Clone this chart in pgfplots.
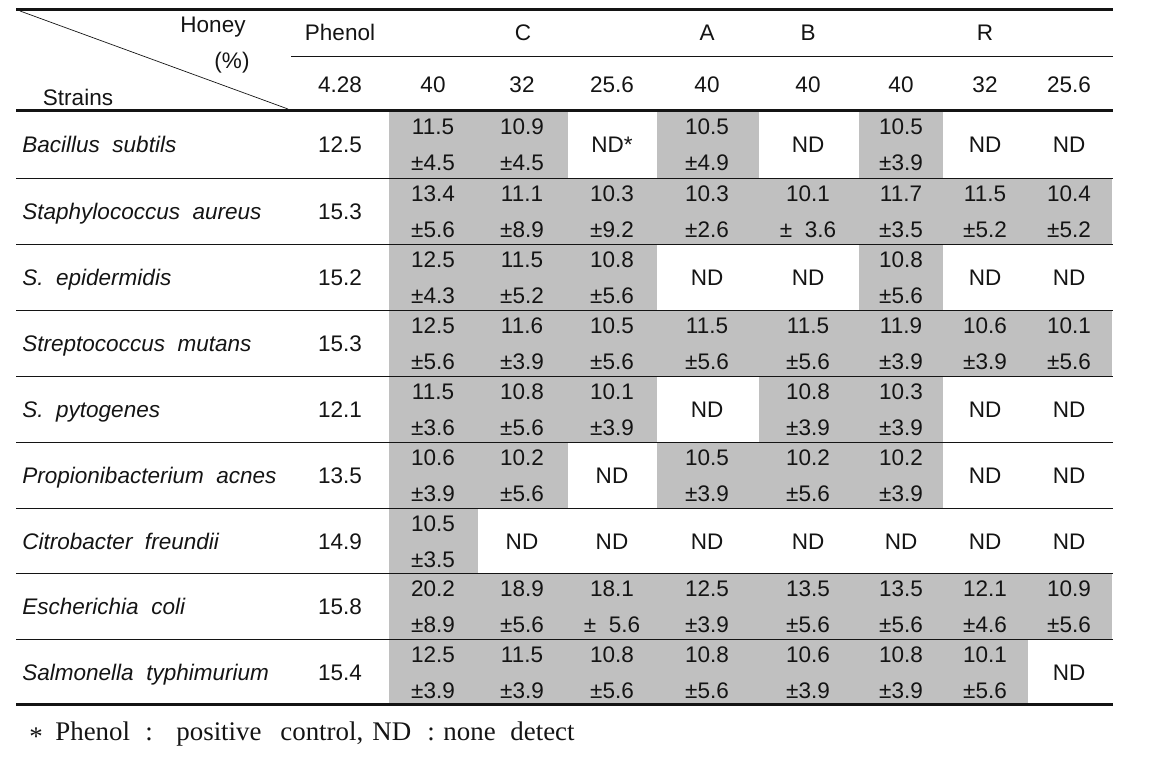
\documentclass[border=0pt]{standalone}
\usepackage{pgfplots}
\pgfplotsset{compat=1.18}
\usepackage{fontspec}
\setmainfont{Liberation Sans}
\newfontfamily\serif{Liberation Serif}
\definecolor{cellgray}{HTML}{C0C0C0}
\definecolor{ink}{HTML}{141414}

% shaded run: x1, x2, row top, row bottom
\newcommand{\cellrun}[4]{\addplot[fill=cellgray,draw=none] coordinates {(#1,#3) (#2,#3) (#2,#4) (#1,#4)};}
% value cell: x, row top, mean, sd
\newcommand{\val}[4]{%
  \node[anchor=base] at (axis cs:#1,{#2+23}) {#3};
  \node[anchor=base] at (axis cs:#1,{#2+59}) {#4};}
% single-line cell: x, row top, text
\newcommand{\one}[3]{\node[anchor=base] at (axis cs:#1,{#2+41}) {#3};}
% row label and phenol value
\newcommand{\strain}[3]{%
  \node[anchor=base west, inner sep=0pt] at (axis cs:22,{#1+41}) {\itshape #2};
  \node[anchor=base] at (axis cs:340,{#1+41}) {#3};}
\newcommand{\tabline}[2]{\draw[line width=#2] (axis cs:16,#1) -- (axis cs:1113,#1);}
\newcommand{\foot}[2]{\node[anchor=base west, inner sep=0pt, font=\serif\fontsize{13.5}{15}\selectfont] at (axis cs:#1,740) {#2};}

\begin{document}
\begin{tikzpicture}[font=\fontsize{11.3}{13}\selectfont, color=ink]
\begin{axis}[
  scale only axis, width=575bp, height=378.5bp,
  xmin=0, xmax=1150, ymin=0, ymax=757, y dir=reverse,
  hide axis, clip=false]
\path (axis cs:0,0) rectangle (axis cs:1150,757);

% shaded cells
\cellrun{389}{568}{112}{178} \cellrun{657}{759}{112}{178} \cellrun{859}{943}{112}{178}
\cellrun{389}{1112}{178}{244}
\cellrun{389}{657}{244}{310} \cellrun{859}{943}{244}{310}
\cellrun{389}{1112}{310}{376}
\cellrun{389}{657}{376}{442} \cellrun{759}{943}{376}{442}
\cellrun{389}{568}{442}{508} \cellrun{657}{943}{442}{508}
\cellrun{389}{478}{508}{573}
\cellrun{389}{1112}{573}{639}
\cellrun{389}{1028}{639}{703}

% rules
\tabline{10}{1.5bp}
\draw[line width=0.5bp] (axis cs:291,57) -- (axis cs:1113,57);
\draw[line width=0.35bp] (axis cs:20,11) -- (axis cs:288,109);
\tabline{111}{1.5bp}
\tabline{178}{0.5bp} \tabline{244}{0.5bp} \tabline{310}{0.5bp} \tabline{376}{0.5bp}
\tabline{442}{0.5bp} \tabline{508}{0.5bp} \tabline{573}{0.5bp} \tabline{639}{0.5bp}
\tabline{704}{1.5bp}

% header
\node[anchor=base] at (axis cs:213,33) {Honey};
\node[anchor=base] at (axis cs:232,68) {(\%)};
\node[anchor=base] at (axis cs:78,105) {Strains};
\node[anchor=base] at (axis cs:340,41) {Phenol};
\node[anchor=base] at (axis cs:523,41) {C};
\node[anchor=base] at (axis cs:707,41) {A};
\node[anchor=base] at (axis cs:808,41) {B};
\node[anchor=base] at (axis cs:985,41) {R};
\node[anchor=base] at (axis cs:340,92) {4.28};
\node[anchor=base] at (axis cs:433,92) {40};
\node[anchor=base] at (axis cs:522,92) {32};
\node[anchor=base] at (axis cs:612,92) {25.6};
\node[anchor=base] at (axis cs:707,92) {40};
\node[anchor=base] at (axis cs:808,92) {40};
\node[anchor=base] at (axis cs:901,92) {40};
\node[anchor=base] at (axis cs:985,92) {32};
\node[anchor=base] at (axis cs:1069,92) {25.6};

% Bacillus subtils
\strain{111}{Bacillus\ \ subtils}{12.5}
\val{433}{111}{11.5}{±4.5} \val{522}{111}{10.9}{±4.5} \one{612}{111}{ND*}
\val{707}{111}{10.5}{±4.9} \one{808}{111}{ND} \val{901}{111}{10.5}{±3.9}
\one{985}{111}{ND} \one{1069}{111}{ND}
% Staphylococcus aureus
\strain{178}{Staphylococcus\ \ aureus}{15.3}
\val{433}{178}{13.4}{±5.6} \val{522}{178}{11.1}{±8.9} \val{612}{178}{10.3}{±9.2}
\val{707}{178}{10.3}{±2.6} \val{808}{178}{10.1}{±\ \ 3.6} \val{901}{178}{11.7}{±3.5}
\val{985}{178}{11.5}{±5.2} \val{1069}{178}{10.4}{±5.2}
% S. epidermidis
\strain{244}{S.\ \ epidermidis}{15.2}
\val{433}{244}{12.5}{±4.3} \val{522}{244}{11.5}{±5.2} \val{612}{244}{10.8}{±5.6}
\one{707}{244}{ND} \one{808}{244}{ND} \val{901}{244}{10.8}{±5.6}
\one{985}{244}{ND} \one{1069}{244}{ND}
% Streptococcus mutans
\strain{310}{Streptococcus\ \ mutans}{15.3}
\val{433}{310}{12.5}{±5.6} \val{522}{310}{11.6}{±3.9} \val{612}{310}{10.5}{±5.6}
\val{707}{310}{11.5}{±5.6} \val{808}{310}{11.5}{±5.6} \val{901}{310}{11.9}{±3.9}
\val{985}{310}{10.6}{±3.9} \val{1069}{310}{10.1}{±5.6}
% S. pytogenes
\strain{376}{S.\ \ pytogenes}{12.1}
\val{433}{376}{11.5}{±3.6} \val{522}{376}{10.8}{±5.6} \val{612}{376}{10.1}{±3.9}
\one{707}{376}{ND} \val{808}{376}{10.8}{±3.9} \val{901}{376}{10.3}{±3.9}
\one{985}{376}{ND} \one{1069}{376}{ND}
% Propionibacterium acnes
\strain{442}{Propionibacterium\ \ acnes}{13.5}
\val{433}{442}{10.6}{±3.9} \val{522}{442}{10.2}{±5.6} \one{612}{442}{ND}
\val{707}{442}{10.5}{±3.9} \val{808}{442}{10.2}{±5.6} \val{901}{442}{10.2}{±3.9}
\one{985}{442}{ND} \one{1069}{442}{ND}
% Citrobacter freundii
\strain{508}{Citrobacter\ \ freundii}{14.9}
\val{433}{508}{10.5}{±3.5} \one{522}{508}{ND} \one{612}{508}{ND}
\one{707}{508}{ND} \one{808}{508}{ND} \one{901}{508}{ND}
\one{985}{508}{ND} \one{1069}{508}{ND}
% Escherichia coli
\strain{573}{Escherichia\ \ coli}{15.8}
\val{433}{573}{20.2}{±8.9} \val{522}{573}{18.9}{±5.6} \val{612}{573}{18.1}{±\ \ 5.6}
\val{707}{573}{12.5}{±3.9} \val{808}{573}{13.5}{±5.6} \val{901}{573}{13.5}{±5.6}
\val{985}{573}{12.1}{±4.6} \val{1069}{573}{10.9}{±5.6}
% Salmonella typhimurium
\strain{639}{Salmonella\ \ typhimurium}{15.4}
\val{433}{639}{12.5}{±3.9} \val{522}{639}{11.5}{±3.9} \val{612}{639}{10.8}{±5.6}
\val{707}{639}{10.8}{±5.6} \val{808}{639}{10.6}{±3.9} \val{901}{639}{10.8}{±3.9}
\val{985}{639}{10.1}{±5.6} \one{1069}{639}{ND}

% footnote
\foot{29}{\raisebox{-2.7bp}{*}}
\foot{55}{Phenol}
\foot{145}{:}
\foot{176}{positive}
\foot{280}{control,}
\foot{372}{ND}
\foot{427}{:}
\foot{443}{none}
\foot{510}{detect}
\end{axis}
\end{tikzpicture}
\end{document}
